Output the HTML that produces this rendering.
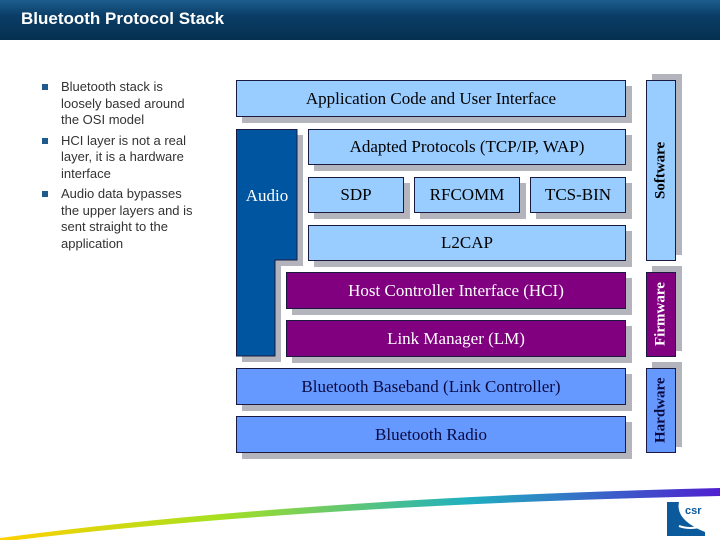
<!DOCTYPE html>
<html><head><style>
body{margin:0;width:720px;height:540px;position:relative;overflow:hidden;background:#fff;font-family:"Liberation Serif",serif}
.h{position:absolute;left:0;top:0;width:720px;height:40px;background:linear-gradient(#1d5d8e,#0a3d66 40%,#06304f)}
.h span{position:absolute;left:21px;top:9px;color:#fff;font:bold 17px "Liberation Sans",sans-serif}
.b{position:absolute;box-sizing:border-box;border:1px solid #1a1a40;box-shadow:6px 6px 0 #b4b4bc;display:flex;align-items:center;justify-content:center;font-size:17px;color:#000}
.l{background:#99ccff}.p{background:#800080;color:#fff}.d{background:#6699ff;color:#0a0a40}
.v{writing-mode:vertical-rl;transform:rotate(180deg);font-weight:bold;font-size:15px;box-shadow:-6px 6px 0 #b4b4bc}
ul{position:absolute;left:42px;top:79px;margin:0;padding:0;list-style:none;width:160px;font:13px/16.5px "Liberation Sans",sans-serif;color:#333}
li{position:relative;padding-left:19px;margin-bottom:4px}
li:before{content:"";position:absolute;left:0;top:5px;width:6px;height:6px;background:#1f5a8c}
</style></head><body>
<div class="h"><span>Bluetooth Protocol Stack</span></div>
<ul><li>Bluetooth stack is loosely based around the OSI model</li><li>HCI layer is not a real layer, it is a hardware interface</li><li>Audio data bypasses the upper layers and is sent straight to the application</li></ul>
<div class="b l" style="left:236px;top:80px;width:390px;height:37px">Application Code and User Interface</div>
<svg style="position:absolute;left:236px;top:129px" width="70" height="236"><path d="M6 6H67V137H45V233H6Z" fill="#b4b4bc"/><path d="M0.5 0.5H61V131H39V227H0.5Z" fill="#0055a0" stroke="#1a1a40"/><text x="31" y="72" font-size="17" fill="#fff" text-anchor="middle" font-family="Liberation Serif">Audio</text></svg>
<div class="b l" style="left:308px;top:129px;width:318px;height:36px">Adapted Protocols (TCP/IP, WAP)</div>
<div class="b l" style="left:308px;top:177px;width:96px;height:36px">SDP</div>
<div class="b l" style="left:414px;top:177px;width:106px;height:36px">RFCOMM</div>
<div class="b l" style="left:530px;top:177px;width:96px;height:36px">TCS-BIN</div>
<div class="b l" style="left:308px;top:225px;width:318px;height:36px">L2CAP</div>
<div class="b p" style="left:286px;top:272px;width:340px;height:37px">Host Controller Interface (HCI)</div>
<div class="b p" style="left:286px;top:320px;width:340px;height:37px">Link Manager (LM)</div>
<div class="b d" style="left:236px;top:368px;width:390px;height:37px">Bluetooth Baseband (Link Controller)</div>
<div class="b d" style="left:236px;top:416px;width:390px;height:37px">Bluetooth Radio</div>
<div class="b l v" style="left:646px;top:80px;width:30px;height:181px">Software</div>
<div class="b p v" style="left:646px;top:272px;width:30px;height:85px">Firmware</div>
<div class="b d v" style="left:646px;top:368px;width:30px;height:85px">Hardware</div>
<svg style="position:absolute;left:0;top:470px" width="720" height="70"><defs><linearGradient id="g"><stop offset="0" stop-color="#ffd000"/><stop offset=".3" stop-color="#a8e020"/><stop offset=".65" stop-color="#20b0c0"/><stop offset="1" stop-color="#5020d0"/></linearGradient></defs><path d="M0 68 Q300 28 720 18 L720 26 Q300 35 0 72Z" fill="url(#g)"/></svg>
<svg style="position:absolute;left:665px;top:500px" width="45" height="38"><path d="M2 2H14Q10 20 40 32V36H2Z" fill="#0a5a9c"/><path d="M14 26Q25 30 38 26" stroke="#fff" stroke-width="2" fill="none"/><text x="20" y="14" font-size="11" font-weight="bold" fill="#0a5a9c" font-family="Liberation Sans">csr</text></svg>
</body></html>
